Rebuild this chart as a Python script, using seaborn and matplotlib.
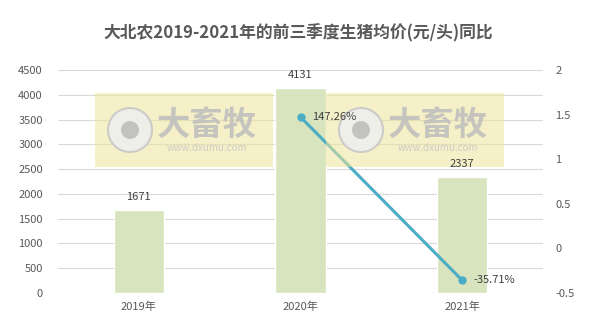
import matplotlib
matplotlib.use("Agg")
import matplotlib.pyplot as plt
import matplotlib.patches as mpatches
import seaborn as sns
import pandas as pd

categories = ["2019年", "2020年", "2021年"]
prices = [1671, 4131, 2337]
yoy_cats = ["2020年", "2021年"]
yoy = [1.4726, -0.3571]
yoy_labels = ["147.26%", "-35.71%"]
left_ticks = [0, 500, 1000, 1500, 2000, 2500, 3000, 3500, 4000, 4500]
right_ticks = [-0.5, 0, 0.5, 1, 1.5, 2]

sns.set_theme(style="white")
plt.rcParams['font.family'] = ['Noto Sans CJK SC', 'DejaVu Sans']

W, H = 596, 325
fig = plt.figure(figsize=(W / 100, H / 100), dpi=100)
L, R, T, B = 58, 543, 70, 293
ax = fig.add_axes([L / W, 1 - B / H, (R - L) / W, (B - T) / H])

df = pd.DataFrame({"cat": categories, "price": prices})
sns.barplot(data=df, x="cat", y="price", color="#D7E4BD", saturation=1,
            width=0.31, ax=ax, zorder=2)
ax.set_xlim(-0.5, 2.5)
ax.set_ylim(0, 4500)
ax.set_yticks(left_ticks)
ax.yaxis.grid(True, color="#D9D9D9", linewidth=0.8, zorder=0)
ax.set_axisbelow(True)
for s in ax.spines.values():
    s.set_visible(False)
ax.set_xlabel("")
ax.set_ylabel("")
ax.tick_params(axis="both", length=0, labelsize=8, labelcolor="#595959")
ax.tick_params(axis="y", pad=11)
ax.tick_params(axis="x", pad=6)

ax2 = ax.twinx()
xpos = [categories.index(c) for c in yoy_cats]
ldf = pd.DataFrame({"x": xpos, "y": yoy})
sns.lineplot(data=ldf, x="x", y="y", color="#4BACC6", linewidth=2.2, marker="o",
             markersize=6, markeredgewidth=0, ax=ax2, zorder=5)
ax2.set_ylim(-0.5, 2)
ax2.set_yticks(right_ticks)
ax2.set_yticklabels(["-0.5", "0", "0.5", "1", "1.5", "2"])
ax2.set_xlim(-0.5, 2.5)
for s in ax2.spines.values():
    s.set_visible(False)
ax2.set_xlabel("")
ax2.set_ylabel("")
ax2.tick_params(axis="y", length=0, labelsize=8, labelcolor="#595959", pad=9)

for i, v in enumerate(prices):
    ax2.text(i, v + 160, str(v), ha="center", va="bottom", fontsize=8, color="#404040",
             transform=ax.transData, zorder=20)
for x, y, lab in zip(xpos, yoy, yoy_labels):
    ax2.text(x + 0.07, y, lab, ha="left", va="center", fontsize=8, color="#404040", zorder=20)

# watermark
for x0 in (95, 326):
    ax2.add_patch(mpatches.Rectangle((x0 / W, 1 - 167 / H), 178 / W, 74 / H,
                                     transform=fig.transFigure, facecolor="#EEE49A",
                                     alpha=0.55, edgecolor="none", zorder=10, clip_on=False))
    cx, cy = x0 + 35, 130
    ax2.add_patch(mpatches.Ellipse((cx / W, 1 - cy / H), 44 / W, 44 / H,
                                   transform=fig.transFigure, facecolor="#EFEFEF",
                                   edgecolor="#C8C8C8", linewidth=1.5, alpha=0.9, zorder=11,
                                   clip_on=False))
    ax2.add_patch(mpatches.Ellipse((cx / W, 1 - cy / H), 18 / W, 18 / H,
                                   transform=fig.transFigure, facecolor="#BDBDBD",
                                   edgecolor="none", alpha=0.9, zorder=12, clip_on=False))
    ax2.text((x0 + 112) / W, 1 - 125 / H, "大畜牧", ha="center", va="center",
             fontsize=24, fontweight="bold", color="#BDBDBD", alpha=0.85, zorder=12,
             transform=fig.transFigure)
    ax2.text((x0 + 112) / W, 1 - 148 / H, "www.dxumu.com", ha="center", va="center",
             fontsize=7, color="#C8C8C8", alpha=0.9, zorder=12, transform=fig.transFigure)

fig.text(0.5, 1 - 33 / H, "大北农2019-2021年的前三季度生猪均价(元/头)同比",
         ha="center", va="center", fontsize=12.1, fontweight="bold", color="#595959")

fig.savefig("out.png", dpi=100)
